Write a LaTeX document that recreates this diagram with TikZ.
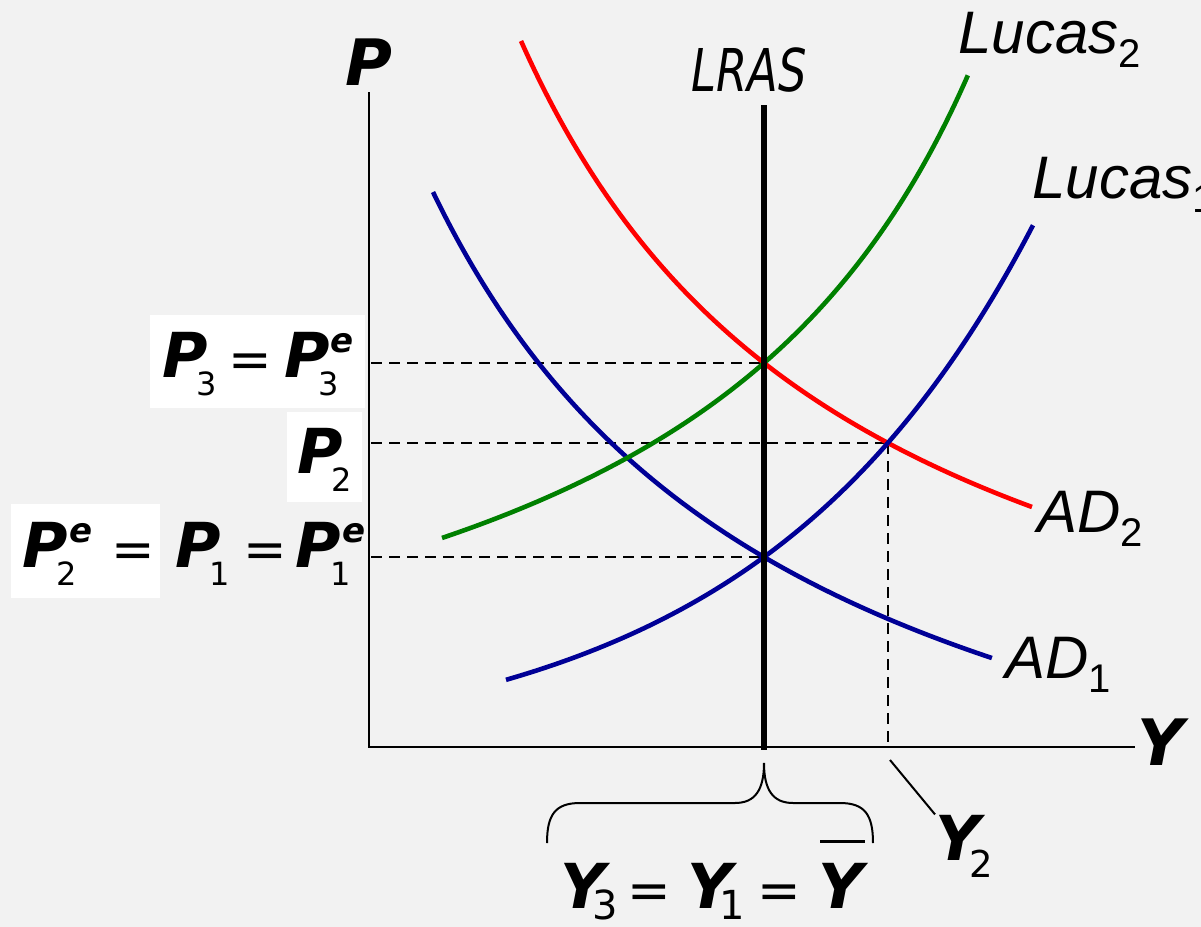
\documentclass[tikz,border=0pt]{standalone}
\usepackage{fontspec}
\setmainfont{DejaVu Sans}[BoldFont={DejaVu Sans Bold},ItalicFont={DejaVu Sans Oblique},BoldItalicFont={DejaVu Sans Bold Oblique}]
\newfontfamily\arialf{Liberation Sans}
\definecolor{bg}{HTML}{F2F2F2}
\definecolor{adred}{RGB}{255,0,0}
\definecolor{lgreen}{RGB}{0,128,0}
\definecolor{dblue}{RGB}{0,0,150}
\newcommand\BI[1]{{\bfseries\itshape #1}}
\newcommand\SubP[2]{\BI{#1}\kern-0.18em\raisebox{-9pt}{\fontsize{16}{16}\selectfont #2}}
\newcommand\SubSupP[3]{\BI{#1}\rlap{\kern-0.18em\raisebox{-9pt}{\fontsize{16}{16}\selectfont #2}}\kern0.02em\raisebox{12.5pt}{\fontsize{17}{17}\selectfont\BI{#3}}}
\newcommand\EqS[2]{\hspace{#1}{\fontsize{26}{26}\selectfont=}\hspace{#2}}
\newcommand\SubY[1]{\BI{Y}\kern-6.5pt\raisebox{-5.5pt}{\fontsize{20}{20}\selectfont #1}}
\newcommand\Luc[2]{#1\raisebox{-7pt}{\fontsize{20}{20}\selectfont\upshape #2}}
\begin{document}
\begin{tikzpicture}[x=0.5pt,y=-0.5pt,
  curve/.style={line width=2.3pt,line cap=butt},
  guide/.style={line width=0.75pt,dash pattern=on 5.5pt off 3.5pt},
  axisline/.style={line width=1.1pt},
  thin/.style={line width=1pt},
  lbl/.style={inner sep=0pt,anchor=base west},
  mathlbl/.style={lbl,font=\fontsize{31}{31}\selectfont},
  curvelbl/.style={lbl,font=\arialf\itshape\fontsize{30}{30}\selectfont},
  whitebox/.style={fill=white,draw=none}]
\fill[bg] (0,0) rectangle (1201,927);
\clip (0,0) rectangle (1201,927);
% white boxes behind labels
\fill[whitebox] (150,315) rectangle (365,408);
\fill[whitebox] (287,412) rectangle (362,502);
\fill[whitebox] (11,504) rectangle (160,598);
% axes
\coordinate (O) at (369,747);
\coordinate (ytop) at (369,92);
\coordinate (xend) at (1135,747);
\draw[axisline] (ytop) -- (O) -- (xend);
% equilibrium points
\coordinate (E1) at (764,557);
\coordinate (E2) at (888,443);
\coordinate (E3) at (764,363);
\coordinate (lrastop) at (764,105);
\coordinate (lrasbot) at (764,750);
% guides
\draw[guide] (E3 -| O) ++(2,0) -- (E3);
\draw[guide] (E2 -| O) ++(2,0) -- (E2);
\draw[guide] (E1 -| O) ++(2,0) -- (E1);
\draw[guide] (E2) -- (E2 |- O);
% curves
\draw[curve,adred] plot[domain=5.21:10.32,samples=120,smooth] ({100*\x},{100*(8.249-27.3283/(\x-1.724))});
\draw[curve,dblue] plot[domain=4.33:9.92,samples=120,smooth] ({100*\x},{100*(9.709-29.2302/(\x-0.577))});
\draw[curve,lgreen] plot[domain=4.42:9.68,samples=120,smooth] ({100*\x},{100*(8.278-24.79/(12.973-\x))});
\draw[curve,dblue] plot[domain=506:1033,samples=120,smooth] ({\x},{760-203*exp(0.003594*(\x-764))});
% LRAS
\draw[line width=2.8pt] (lrastop) -- (lrasbot);
% labels
\node[lbl,font=\fontsize{29.5}{29.5}\selectfont\itshape] (lras) at (691,91) {\scalebox{0.76}[1]{LRAS}};
\node[lbl,font=\fontsize{32}{32}\selectfont] (plab) at (345,85) {\BI{P}};
\node[lbl,font=\fontsize{32}{32}\selectfont] (ylab) at (1137,765) {\BI{Y}};
\node[curvelbl] (luc2) at (958,53) {\Luc{Lucas}{2}};
\node[curvelbl] (luc1) at (1032,198) {\Luc{Lucas}{1}};
\node[curvelbl] (ad2) at (1037,532) {\Luc{AD}{2}};
\node[curvelbl] (ad1) at (1005,678) {\Luc{AD}{1}};
\node[mathlbl] (p3) at (162,377) {\SubP{P}{3}\EqS{5.6pt}{6.1pt}\SubSupP{P}{3}{e}};
\node[mathlbl] (p2) at (297,473) {\SubP{P}{2}};
\node[mathlbl] (p1) at (22,567) {\SubSupP{P}{2}{e}\EqS{9.5pt}{10.5pt}\SubP{P}{1}\EqS{6.5pt}{4.5pt}\SubSupP{P}{1}{e}};
\node[mathlbl] (ybar) at (560,908) {\SubY{3}\EqS{5pt}{8pt}\SubY{1}\EqS{6.3pt}{8.6pt}\rlap{\kern1pt\rule[32.5pt]{22.5pt}{1.5pt}}\BI{Y}};
\node[mathlbl] (y2) at (935,860) {\BI{Y}\kern-5.5pt\raisebox{-8.5pt}{\fontsize{18.5}{18.5}\selectfont 2}};
% brace and leader
\coordinate (bl) at (547,843);
\coordinate (br) at (873,843);
\coordinate (btip) at (764,763);
\draw[thin] (bl) .. controls (547,815) and (555,803) .. (580,803) -- (735,803)
  .. controls (755,803) and (764,790) .. (btip)
  .. controls (764,790) and (773,803) .. (793,803) -- (840,803)
  .. controls (865,803) and (873,815) .. (br);
\coordinate (lead) at (890,760);
\draw[thin] (lead) -- (y2.north west);
\end{tikzpicture}
\end{document}
